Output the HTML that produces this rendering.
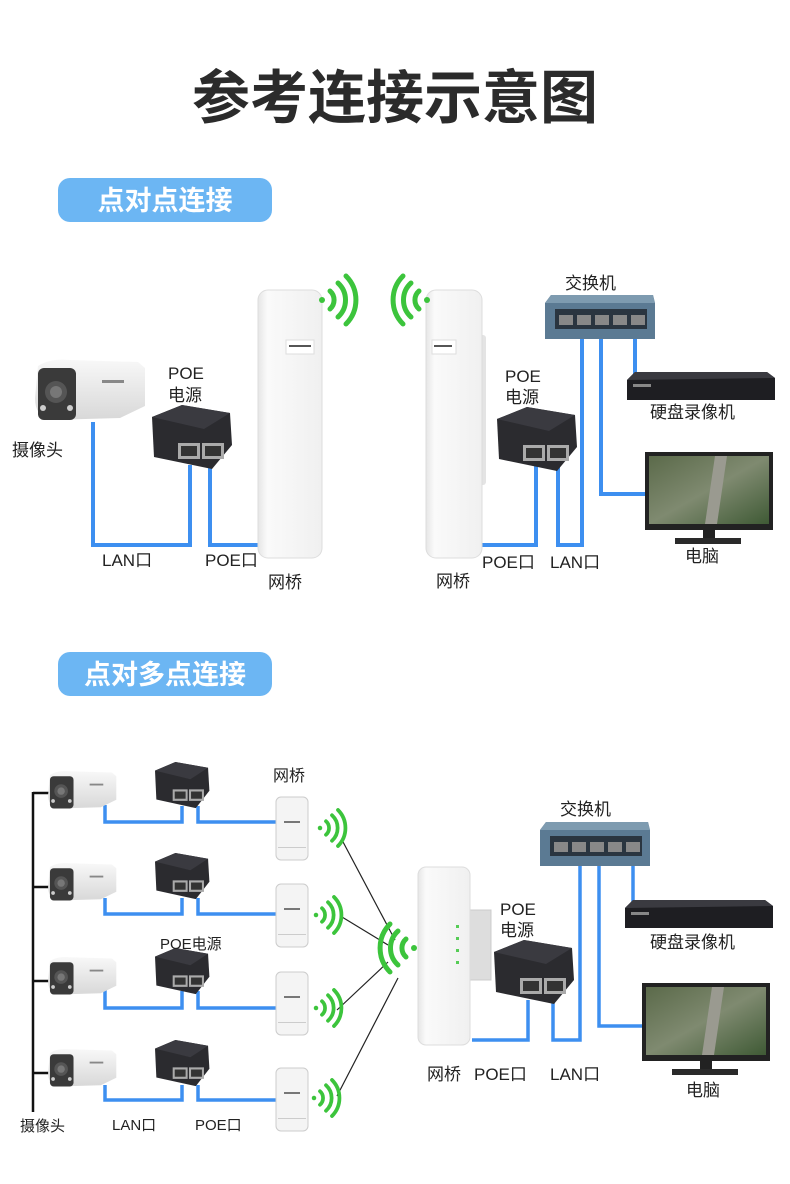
<!DOCTYPE html>
<html><head><meta charset="utf-8"><style>
html,body{margin:0;padding:0;background:#fff;}
svg{display:block;}
text{font-family:"Liberation Sans","Noto Sans CJK SC",sans-serif;fill:#222;}
</style></head><body>
<svg width="790" height="1184" viewBox="0 0 790 1184" xmlns="http://www.w3.org/2000/svg">
<defs>
<linearGradient id="brg" x1="0" x2="1"><stop offset="0" stop-color="#e6e6e6"/><stop offset="0.15" stop-color="#fafafa"/><stop offset="1" stop-color="#f0f0f0"/></linearGradient>
<linearGradient id="cam" x1="0" y1="0" x2="0" y2="1"><stop offset="0" stop-color="#f8f8f8"/><stop offset="1" stop-color="#d8d8d8"/></linearGradient>
<linearGradient id="scr" x1="0" y1="0" x2="1" y2="1"><stop offset="0" stop-color="#5b6a4a"/><stop offset="0.5" stop-color="#7f8a70"/><stop offset="1" stop-color="#3f5a35"/></linearGradient>
<g id="poe">
 <path d="M0 12 L30 0 L78 8 L80 40 L60 64 L2 52 Z" fill="#2b2b2f"/>
 <path d="M0 12 L30 0 L78 8 L52 24 Z" fill="#3a3a40"/>
 <rect x="26" y="38" width="22" height="16" fill="#aaa"/><rect x="29" y="41" width="16" height="10" fill="#333"/>
 <rect x="50" y="38" width="22" height="16" fill="#aaa"/><rect x="53" y="41" width="16" height="10" fill="#333"/>
</g>
<g id="wifiR" fill="none" stroke="#3cc43c" stroke-width="5" stroke-linecap="round">
 <circle cx="0" cy="0" r="3" fill="#3cc43c" stroke="none"/>
 <path d="M8 -9 A12 12 0 0 1 8 9"/><path d="M16 -17 A23 23 0 0 1 16 17"/><path d="M24 -24 A34 34 0 0 1 24 24"/>
</g>
<g id="cam1">
 <path d="M8 8 Q20 0 40 2 L108 4 L115 10 L115 48 L90 60 L20 62 Q5 58 5 40 Z" fill="url(#cam)"/>
 <rect x="8" y="10" width="38" height="52" rx="6" fill="#3a3a3a"/>
 <circle cx="26" cy="34" r="11" fill="#555"/><circle cx="26" cy="34" r="6" fill="#777"/>
 <circle cx="13" cy="50" r="3" fill="#ccc"/><circle cx="40" cy="50" r="3" fill="#ccc"/>
 <rect x="72" y="22" width="22" height="3" fill="#888"/>
</g>
<g id="sw">
 <path d="M6 0 L108 0 L110 8 L110 44 L0 44 L0 8 Z" fill="#5b7a93"/>
 <path d="M6 0 L108 0 L110 8 L0 8 Z" fill="#7e9bb0"/>
 <rect x="10" y="14" width="92" height="20" fill="#2a3540"/>
 <g fill="#888"><rect x="14" y="20" width="14" height="10"/><rect x="32" y="20" width="14" height="10"/><rect x="50" y="20" width="14" height="10"/><rect x="68" y="20" width="14" height="10"/><rect x="86" y="20" width="14" height="10"/></g>
</g>
<g id="nvr">
 <path d="M8 0 L140 0 L148 6 L148 28 L0 28 L0 8 Z" fill="#1e1e22"/>
 <path d="M8 0 L140 0 L148 6 L0 8 Z" fill="#3a3a40"/>
 <rect x="6" y="12" width="18" height="3" fill="#888"/>
</g>
<g id="mon">
 <rect x="0" y="0" width="128" height="78" fill="#222"/>
 <rect x="4" y="4" width="120" height="68" fill="url(#scr)"/>
 <path d="M60 72 L70 4 L82 4 L72 72 Z" fill="#9a9a90"/>
 <rect x="58" y="78" width="12" height="10" fill="#222"/>
 <rect x="30" y="86" width="66" height="6" fill="#2a2a2a"/>
</g>
<g id="mini">
 <rect x="0" y="0" width="32" height="63" rx="5" fill="#f4f4f4" stroke="#ccc"/>
 <rect x="2" y="50" width="28" height="1" fill="#ccc"/>
 <rect x="8" y="24" width="16" height="2" fill="#777"/>
</g>
</defs>

<text x="395" y="118" text-anchor="middle" font-size="58" font-weight="bold" style="fill:#2b2b2b">参考连接示意图</text>

<rect x="58" y="178" width="214" height="44" rx="12" fill="#6cb6f3"/>
<text x="165" y="210" text-anchor="middle" font-size="27" font-weight="bold" style="fill:#fff">点对点连接</text>
<rect x="58" y="652" width="214" height="44" rx="12" fill="#6cb6f3"/>
<text x="165" y="684" text-anchor="middle" font-size="27" font-weight="bold" style="fill:#fff">点对多点连接</text>

<!-- Section 1 -->
<g stroke="#3d8ff0" stroke-width="4" fill="none">
 <polyline points="93,422 93,545 190,545 190,465"/>
 <polyline points="210,465 210,545 260,545"/>
 <polyline points="478,545 536,545 536,465"/>
 <polyline points="558,465 558,545 582,545 582,338"/>
 <polyline points="601,338 601,494 648,494"/>
 <polyline points="635,338 635,382"/>
</g>
<use href="#cam1" x="30" y="358"/>
<text x="12" y="456" font-size="17">摄像头</text>
<use href="#poe" x="152" y="405"/>
<text x="168" y="379" font-size="17">POE</text>
<text x="168" y="401" font-size="17">电源</text>
<rect x="258" y="290" width="64" height="268" rx="10" fill="url(#brg)" stroke="#ddd"/>
<rect x="286" y="340" width="28" height="14" fill="#fff" stroke="#ddd"/>
<rect x="289" y="345" width="22" height="2" fill="#555"/>
<use href="#wifiR" x="322" y="300"/>
<text x="102" y="566" font-size="17">LAN口</text>
<text x="205" y="566" font-size="17">POE口</text>
<text x="268" y="588" font-size="17">网桥</text>

<rect x="470" y="335" width="16" height="150" rx="3" fill="#e4e4e4"/>
<rect x="426" y="290" width="56" height="268" rx="10" fill="url(#brg)" stroke="#ddd"/>
<rect x="432" y="340" width="24" height="14" fill="#fff" stroke="#ddd"/>
<rect x="434" y="345" width="18" height="2" fill="#555"/>
<use href="#wifiR" transform="translate(427,300) scale(-1,1)"/>
<use href="#poe" x="497" y="407"/>
<text x="505" y="382" font-size="17">POE</text>
<text x="505" y="403" font-size="17">电源</text>
<use href="#sw" x="545" y="295"/>
<text x="565" y="289" font-size="17">交换机</text>
<use href="#nvr" x="627" y="372"/>
<text x="650" y="418" font-size="17">硬盘录像机</text>
<use href="#mon" x="645" y="452"/>
<text x="685" y="562" font-size="17">电脑</text>
<text x="482" y="568" font-size="17">POE口</text>
<text x="550" y="568" font-size="17">LAN口</text>
<text x="436" y="587" font-size="17">网桥</text>

<!-- Section 2 -->
<g stroke="#111" stroke-width="2.5" fill="none">
 <line x1="33" y1="792" x2="33" y2="1112"/>
 <line x1="33" y1="793" x2="50" y2="793"/>
 <line x1="33" y1="887" x2="50" y2="887"/>
 <line x1="33" y1="981" x2="50" y2="981"/>
 <line x1="33" y1="1073" x2="50" y2="1073"/>
</g>
<g stroke="#222" stroke-width="1.2" fill="none">
 <line x1="342" y1="840" x2="395" y2="940"/>
 <line x1="342" y1="917" x2="388" y2="945"/>
 <line x1="337" y1="1010" x2="388" y2="962"/>
 <line x1="337" y1="1096" x2="398" y2="978"/>
</g>
<g stroke="#3d8ff0" stroke-width="3.5" fill="none">
 <polyline points="105,805 105,822 182,822 182,806"/>
 <polyline points="198,806 198,822 276,822"/>
 <polyline points="105,898 105,914 182,914 182,898"/>
 <polyline points="198,898 198,914 276,914"/>
 <polyline points="105,990 105,1008 182,1008 182,991"/>
 <polyline points="198,991 198,1008 276,1008"/>
 <polyline points="105,1085 105,1100 182,1100 182,1085"/>
 <polyline points="198,1085 198,1100 276,1100"/>
 <polyline points="472,1040 528,1040 528,1000"/>
 <polyline points="553,1000 553,1040 580,1040 580,866"/>
 <polyline points="599,866 599,1026 645,1026"/>
 <polyline points="633,866 633,908"/>
</g>
<g transform="scale(0.62)">
</g>
<use href="#cam1" transform="translate(45,770) scale(0.62)"/>
<use href="#cam1" transform="translate(45,862) scale(0.62)"/>
<use href="#cam1" transform="translate(45,956) scale(0.62)"/>
<use href="#cam1" transform="translate(45,1048) scale(0.62)"/>
<use href="#poe" transform="translate(155,762) scale(0.68,0.72)"/>
<use href="#poe" transform="translate(155,853) scale(0.68,0.72)"/>
<use href="#poe" transform="translate(155,948) scale(0.68,0.72)"/>
<use href="#poe" transform="translate(155,1040) scale(0.68,0.72)"/>
<use href="#mini" x="276" y="797"/>
<use href="#mini" x="276" y="884"/>
<use href="#mini" x="276" y="972"/>
<use href="#mini" x="276" y="1068"/>
<use href="#wifiR" transform="translate(320,828) scale(0.75)"/>
<use href="#wifiR" transform="translate(316,915) scale(0.75)"/>
<use href="#wifiR" transform="translate(316,1008) scale(0.75)"/>
<use href="#wifiR" transform="translate(314,1098) scale(0.75)"/>
<text x="273" y="781" font-size="16">网桥</text>
<text x="160" y="949" font-size="15">POE电源</text>
<text x="20" y="1131" font-size="15">摄像头</text>
<text x="112" y="1130" font-size="15">LAN口</text>
<text x="195" y="1130" font-size="15">POE口</text>

<rect x="465" y="910" width="26" height="70" fill="#ddd" stroke="#ccc"/>
<rect x="418" y="867" width="52" height="178" rx="8" fill="url(#brg)" stroke="#ddd"/>
<g fill="#5c5"><rect x="456" y="925" width="3" height="3"/><rect x="456" y="937" width="3" height="3"/><rect x="456" y="949" width="3" height="3"/><rect x="456" y="961" width="3" height="3"/></g>
<use href="#wifiR" transform="translate(414,948) scale(-1,1)"/>
<use href="#poe" x="494" y="940"/>
<text x="500" y="915" font-size="17">POE</text>
<text x="500" y="936" font-size="17">电源</text>
<use href="#sw" x="540" y="822"/>
<text x="560" y="815" font-size="17">交换机</text>
<use href="#nvr" x="625" y="900"/>
<text x="650" y="948" font-size="17">硬盘录像机</text>
<use href="#mon" x="642" y="983"/>
<text x="686" y="1096" font-size="17">电脑</text>
<text x="427" y="1080" font-size="17">网桥</text>
<text x="474" y="1080" font-size="17">POE口</text>
<text x="550" y="1080" font-size="17">LAN口</text>
</svg>
</body></html>
